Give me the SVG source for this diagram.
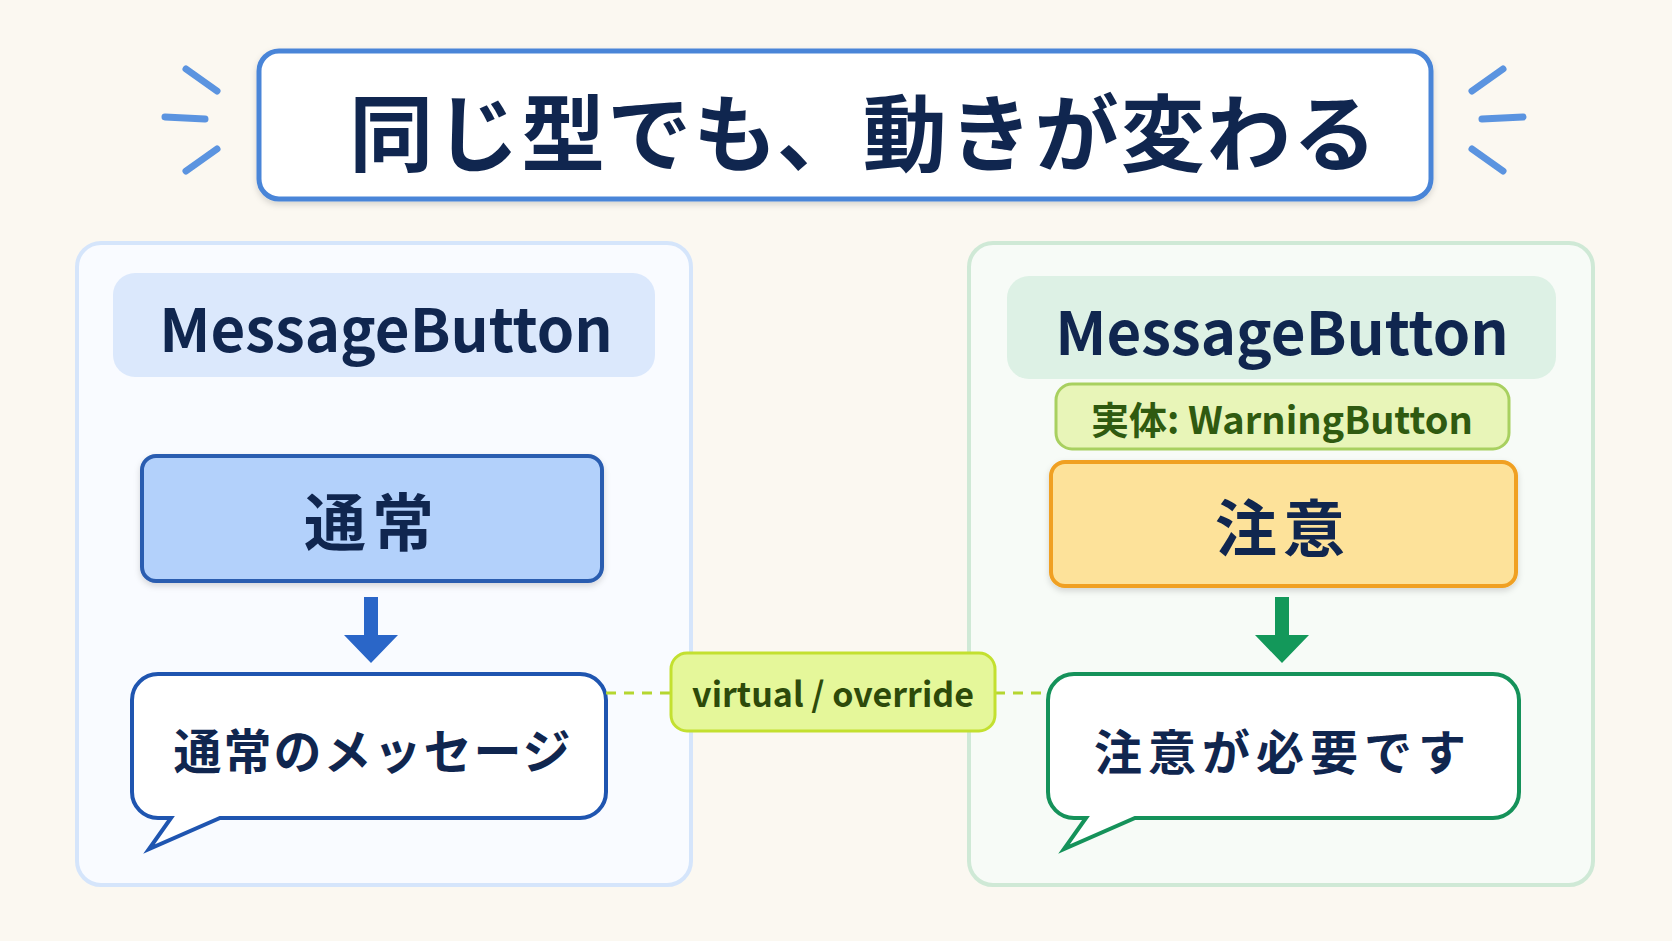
<svg xmlns="http://www.w3.org/2000/svg" width="1672" height="941" viewBox="0 0 1672 941">
<style>
.t{font-family:"Noto Sans CJK JP","Noto Sans",sans-serif;font-weight:bold;text-anchor:middle;dominant-baseline:central}
.sp{stroke:#5b94e0;stroke-width:7;stroke-linecap:round}
</style>
<defs>
<filter id="sh" x="-10%" y="-10%" width="120%" height="130%"><feDropShadow dx="0" dy="3" stdDeviation="3" flood-opacity="0.15"/></filter>
</defs>
<rect width="1672" height="941" fill="#fbf8f1"/>
<g id="title">
<rect x="259" y="51" width="1172" height="148" rx="20" fill="#fff" stroke="#4a85d8" stroke-width="5" filter="url(#sh)"/>
<text class="t" x="864" y="128" font-size="84" letter-spacing="2" fill="#10264f">同じ型でも、動きが変わる</text>
<line class="sp" x1="186" y1="69" x2="217" y2="91"/><line class="sp" x1="165" y1="117" x2="205" y2="119"/><line class="sp" x1="186" y1="171" x2="217" y2="149"/>
<line class="sp" x1="1472" y1="91" x2="1503" y2="69"/><line class="sp" x1="1482" y1="119" x2="1523" y2="117"/><line class="sp" x1="1472" y1="149" x2="1503" y2="171"/>
</g>
<g id="left">
<rect x="77" y="243" width="614" height="642" rx="24" fill="#f9fbff" stroke="#d5e5fb" stroke-width="4"/>
<rect x="113" y="273" width="542" height="104" rx="22" fill="#dbe8fc"/>
<text class="t" x="386" y="325" font-size="60" fill="#10264f">MessageButton</text>
<rect x="142" y="456" width="460" height="125" rx="14" fill="#b3d1fb" stroke="#2a5db0" stroke-width="4" filter="url(#sh)"/>
<text class="t" x="372" y="519" font-size="62" letter-spacing="6" fill="#10264f">通常</text>
<path d="M364 597h14v38h20l-27 28l-27-28h20z" fill="#2a66c8"/>
<path d="M160 674h420a26 26 0 0 1 26 26v92a26 26 0 0 1-26 26H220l-71 31l22-31h-13a26 26 0 0 1-26-26v-92a26 26 0 0 1 26-26z" fill="#fff" stroke="#1f55b0" stroke-width="4"/>
<text class="t" x="373" y="748" font-size="48" letter-spacing="2" fill="#10264f">通常のメッセージ</text>
</g>
<g id="right">
<rect x="969" y="243" width="624" height="642" rx="24" fill="#f7fbf7" stroke="#cfe9d6" stroke-width="4"/>
<rect x="1007" y="276" width="549" height="103" rx="22" fill="#ddf1e5"/>
<text class="t" x="1282" y="328" font-size="60" fill="#10264f">MessageButton</text>
<rect x="1056" y="384" width="453" height="65" rx="16" fill="#e8f5b8" stroke="#a8d060" stroke-width="3"/>
<text class="t" x="1282" y="417" font-size="38" fill="#2f5a10">実体: WarningButton</text>
<rect x="1051" y="462" width="465" height="124" rx="14" fill="#fde29a" stroke="#f0a020" stroke-width="4" filter="url(#sh)"/>
<text class="t" x="1283" y="525" font-size="62" letter-spacing="6" fill="#10264f">注意</text>
<path d="M1275 597h14v38h20l-27 28l-27-28h20z" fill="#13985a"/>
<path d="M1074 674h419a26 26 0 0 1 26 26v92a26 26 0 0 1-26 26H1135l-71 31l22-31h-12a26 26 0 0 1-26-26v-92a26 26 0 0 1 26-26z" fill="#fff" stroke="#15925a" stroke-width="4"/>
<text class="t" x="1283" y="749" font-size="48" letter-spacing="6" fill="#10264f">注意が必要です</text>
</g>
<g id="connectors">
<line x1="606" y1="693" x2="671" y2="693" stroke="#b5d630" stroke-width="3" stroke-dasharray="10 8"/>
<line x1="995" y1="693" x2="1048" y2="693" stroke="#b5d630" stroke-width="3" stroke-dasharray="10 8"/>
</g>
<g id="label">
<rect x="671" y="653" width="324" height="78" rx="16" fill="#e5f79a" stroke="#c3e030" stroke-width="3"/>
<text class="t" x="833" y="692" font-size="34" fill="#2d4a0a">virtual / override</text>
</g>
</svg>
